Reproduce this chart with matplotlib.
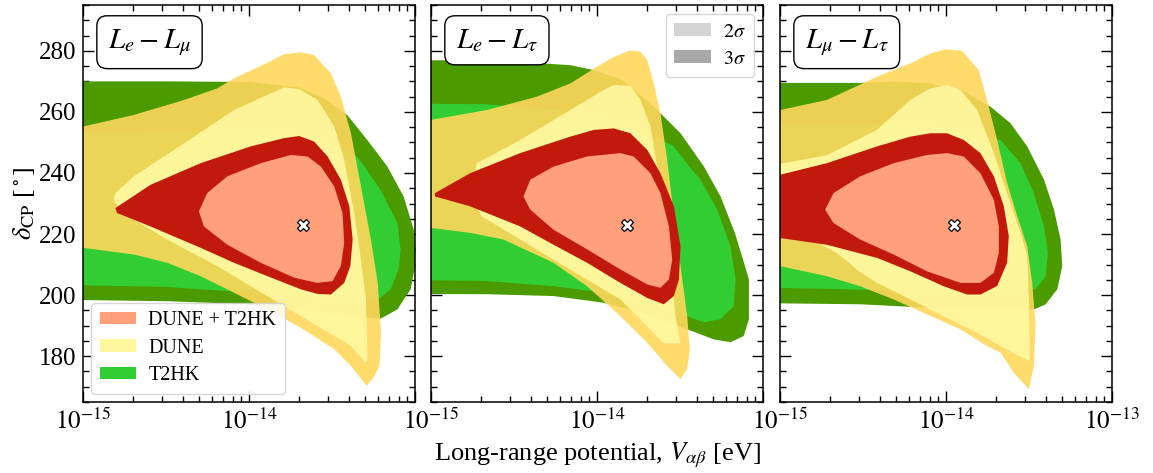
import numpy as np
import matplotlib
matplotlib.use("Agg")
import matplotlib.pyplot as plt
from matplotlib.patches import Patch
from matplotlib.ticker import MultipleLocator, LogLocator, NullFormatter

plt.rcParams["font.family"] = ["Liberation Serif", "DejaVu Serif"]
plt.rcParams["mathtext.fontset"] = "stix"

# ---------------------------------------------------------------------------
# Allowed regions: boundary points as (log10 V_ab [eV], delta_CP [deg])
# ---------------------------------------------------------------------------
panel_titles = [r"$L_e - L_\mu$", r"$L_e - L_\tau$", r"$L_\mu - L_\tau$"]
experiments = ["DUNE + T2HK", "DUNE", "T2HK"]
sigma_labels = [r"$2\sigma$", r"$3\sigma$"]

# best-fit points (log10 V, delta_CP)
best_fit_logv = [-13.674, -13.819, -13.950]
best_fit_dcp = [223.1, 223.1, 223.0]

# --- L_e - L_mu -------------------------------------------------------------
emu_t2hk_3s = [(-15.3, 270.0), (-14.5, 270.0), (-14.0, 269.8), (-13.7, 268.0),
               (-13.55, 264.5), (-13.409, 259.0), (-13.288, 250.8), (-13.167, 242.1),
               (-13.069, 232.3), (-13.008, 221.4), (-12.996, 210.6), (-13.027, 201.9),
               (-13.107, 195.3), (-13.208, 192.3), (-13.3, 192.8), (-13.5, 194.0),
               (-13.79, 195.9), (-14.0, 197.0), (-14.49, 198.0), (-15.3, 198.6)]
emu_t2hk_2s = [(-15.3, 253.0), (-14.5, 253.5), (-14.0, 253.5), (-13.7, 252.0),
               (-13.5, 249.0), (-13.348, 245.4), (-13.208, 234.5), (-13.107, 223.7),
               (-13.087, 214.9), (-13.099, 208.4), (-13.147, 201.9), (-13.22, 198.6),
               (-13.35, 198.5), (-13.6, 199.5), (-13.99, 200.8), (-14.5, 202.7),
               (-15.3, 203.5)]
emu_dune_3s = [(-15.3, 255.0), (-15.0, 255.2), (-14.694, 259.0), (-14.392, 263.9),
               (-14.191, 267.7), (-14.091, 271.0), (-13.889, 276.1), (-13.789, 278.9),
               (-13.688, 279.5), (-13.608, 278.6), (-13.507, 272.6), (-13.447, 265.0),
               (-13.386, 253.0), (-13.326, 235.6), (-13.266, 218.2), (-13.225, 204.0),
               (-13.205, 187.7), (-13.215, 176.8), (-13.245, 173.5), (-13.292, 170.3),
               (-13.386, 176.8), (-13.487, 182.3), (-13.688, 189.3), (-13.889, 195.3),
               (-14.091, 200.8), (-14.292, 206.2), (-14.493, 210.6), (-14.694, 213.3),
               (-15.0, 215.5), (-15.3, 215.7)]
emu_dune_2s = [(-14.815, 231.5), (-14.805, 233.4), (-14.694, 238.9), (-14.392, 249.7),
               (-14.091, 260.6), (-13.789, 268.0), (-13.70, 267.5), (-13.588, 263.9),
               (-13.487, 255.2), (-13.427, 244.3), (-13.366, 226.9), (-13.326, 211.6),
               (-13.296, 198.6), (-13.286, 178.4), (-13.30, 178.0), (-13.386, 183.3),
               (-13.588, 189.9), (-13.789, 196.4), (-13.990, 202.9), (-14.191, 209.5),
               (-14.493, 218.2), (-14.694, 224.7), (-14.805, 230.0)]
emu_comb_3s = [(-14.805, 228.5), (-14.594, 236.1), (-14.292, 243.2), (-13.990, 248.7),
               (-13.789, 251.4), (-13.698, 252.1), (-13.608, 250.3), (-13.527, 245.4),
               (-13.447, 237.8), (-13.396, 229.1), (-13.376, 218.2), (-13.390, 209.5),
               (-13.427, 204.0), (-13.507, 200.2), (-13.588, 200.4), (-13.688, 201.9),
               (-13.889, 206.2), (-14.091, 210.6), (-14.292, 215.5), (-14.594, 222.5),
               (-14.795, 226.9)]
emu_comb_2s = [(-14.302, 227.4), (-14.252, 233.4), (-14.131, 238.9), (-13.930, 243.2),
               (-13.748, 245.9), (-13.648, 245.4), (-13.567, 242.1), (-13.487, 235.6),
               (-13.437, 226.9), (-13.427, 217.1), (-13.447, 209.5), (-13.497, 204.6),
               (-13.588, 204.0), (-13.728, 205.7), (-13.930, 210.6), (-14.131, 216.5),
               (-14.272, 222.5)]

# --- L_e - L_tau ------------------------------------------------------------
etau_t2hk_3s = [(-15.3, 277.0), (-14.6, 276.8), (-14.161, 275.3), (-14.020, 273.7),
                (-13.85, 270.5), (-13.658, 261.7), (-13.497, 253.0), (-13.356, 242.1),
                (-13.256, 232.3), (-13.17, 220.4), (-13.117, 211.0), (-13.085, 205.1),
                (-13.085, 192.1), (-13.117, 186.6), (-13.196, 184.6), (-13.296, 185.5),
                (-13.457, 188.8), (-13.658, 193.1), (-13.960, 197.5), (-14.262, 199.7),
                (-14.664, 200.3), (-15.3, 200.4)]
etau_t2hk_2s = [(-15.3, 262.8), (-14.664, 262.5), (-14.262, 260.6), (-14.0, 258.5),
                (-13.8, 255.5), (-13.65, 252.0), (-13.537, 248.7), (-13.45, 242.5),
                (-13.377, 237.8), (-13.276, 228.0), (-13.196, 216.0), (-13.165, 205.1),
                (-13.177, 196.4), (-13.256, 192.1), (-13.358, 191.1), (-13.457, 193.1),
                (-13.658, 197.5), (-13.960, 200.8), (-14.262, 202.9), (-14.664, 204.6),
                (-15.3, 205.1)]
etau_dune_3s = [(-15.3, 257.2), (-15.0, 257.4), (-14.664, 260.6), (-14.362, 265.0),
                (-14.161, 269.3), (-14.0, 274.8), (-13.899, 278.0), (-13.799, 280.2),
                (-13.738, 279.7), (-13.698, 277.0), (-13.658, 269.3), (-13.618, 259.5),
                (-13.577, 244.3), (-13.537, 225.8), (-13.497, 209.5), (-13.457, 193.1),
                (-13.441, 182.3), (-13.457, 175.7), (-13.497, 172.5), (-13.577, 176.8),
                (-13.698, 184.4), (-13.859, 193.1), (-14.060, 202.9), (-14.262, 210.6),
                (-14.563, 218.2), (-14.765, 220.4), (-15.0, 222.0), (-15.3, 222.2)]
etau_dune_2s = [(-14.75, 236.0), (-14.724, 243.2), (-14.463, 250.8), (-14.161, 260.6),
                (-13.960, 267.2), (-13.899, 268.8), (-13.799, 268.5), (-13.738, 263.9),
                (-13.678, 255.2), (-13.638, 242.1), (-13.598, 225.8), (-13.557, 209.5),
                (-13.527, 193.1), (-13.497, 184.2), (-13.6, 184.2), (-13.739, 192.1),
                (-13.86, 198.6), (-14.060, 205.1), (-14.262, 211.6), (-14.463, 218.2),
                (-14.7, 226.0)]
etau_comb_3s = [(-14.976, 233.4), (-14.765, 239.9), (-14.463, 246.5), (-14.161, 251.9),
                (-14.020, 254.1), (-13.899, 254.6), (-13.799, 253.0), (-13.698, 247.6),
                (-13.618, 239.9), (-13.537, 229.1), (-13.497, 216.0), (-13.507, 205.1),
                (-13.537, 199.7), (-13.598, 197.0), (-13.698, 199.1), (-13.859, 204.0),
                (-14.060, 210.6), (-14.262, 216.5), (-14.463, 222.5), (-14.765, 229.1),
                (-14.976, 232.3)]
etau_comb_2s = [(-14.443, 232.3), (-14.402, 237.8), (-14.262, 242.1), (-14.060, 245.4),
                (-13.859, 246.5), (-13.779, 245.4), (-13.678, 239.9), (-13.618, 233.4),
                (-13.567, 222.5), (-13.547, 211.6), (-13.567, 205.1), (-13.618, 202.4),
                (-13.698, 203.5), (-13.859, 208.4), (-14.060, 215.0), (-14.262, 221.4),
                (-14.402, 228.0)]

# --- L_mu - L_tau -----------------------------------------------------------
mutau_t2hk_3s = [(-15.3, 269.5), (-14.517, 269.5), (-14.316, 269.9), (-14.115, 269.5),
                 (-13.9, 267.0), (-13.732, 261.7), (-13.612, 256.3), (-13.511, 248.7),
                 (-13.410, 237.8), (-13.350, 228.0), (-13.310, 218.2), (-13.300, 209.5),
                 (-13.330, 201.9), (-13.400, 197.0), (-13.471, 195.3), (-13.712, 195.3),
                 (-14.115, 195.9), (-14.517, 197.0), (-15.3, 197.5)]
mutau_t2hk_2s = [(-15.3, 256.0), (-14.5, 256.0), (-14.1, 255.0), (-13.85, 253.0),
                 (-13.672, 250.8), (-13.551, 243.2), (-13.471, 233.4), (-13.410, 222.5),
                 (-13.386, 213.8), (-13.400, 206.2), (-13.461, 201.9), (-13.511, 201.3),
                 (-13.712, 200.8), (-14.115, 200.8), (-14.517, 201.8), (-15.3, 202.7)]
mutau_dune_3s = [(-15.3, 260.4), (-15.0, 260.6), (-14.718, 263.9), (-14.416, 271.5),
                 (-14.215, 275.9), (-14.095, 279.1), (-14.004, 280.5), (-13.903, 280.0),
                 (-13.803, 273.7), (-13.753, 263.9), (-13.692, 250.8), (-13.632, 236.7),
                 (-13.571, 225.8), (-13.511, 216.0), (-13.481, 204.0), (-13.461, 189.9),
                 (-13.471, 176.8), (-13.501, 169.2), (-13.592, 174.6), (-13.672, 181.2),
                 (-13.753, 183.3), (-13.913, 188.8), (-14.115, 193.7), (-14.316, 198.6),
                 (-14.517, 202.9), (-14.718, 206.2), (-15.0, 209.5), (-15.3, 209.8)]
mutau_dune_2s = [(-15.3, 243.0), (-15.0, 243.0), (-14.718, 245.8), (-14.416, 254.1),
                 (-14.215, 263.9), (-14.095, 267.7), (-13.994, 268.8), (-13.913, 267.2),
                 (-13.813, 260.6), (-13.712, 246.5), (-13.632, 233.4), (-13.551, 220.4),
                 (-13.511, 213.0), (-13.501, 198.6), (-13.495, 178.4), (-13.54, 179.5),
                 (-13.672, 183.3), (-13.813, 187.7), (-14.014, 193.1), (-14.215, 198.6),
                 (-14.416, 204.0), (-14.517, 207.5), (-14.65, 213.5), (-14.8, 218.0),
                 (-15.3, 220.0)]
mutau_comb_3s = [(-15.3, 239.4), (-15.0, 239.4), (-14.718, 243.2), (-14.416, 248.7),
                 (-14.215, 251.9), (-14.095, 253.0), (-13.994, 253.0), (-13.893, 250.8),
                 (-13.793, 246.5), (-13.712, 238.9), (-13.652, 229.1), (-13.622, 219.3),
                 (-13.632, 210.6), (-13.692, 203.0), (-13.793, 200.2), (-13.873, 200.2),
                 (-14.014, 202.9), (-14.215, 207.8), (-14.416, 212.2), (-14.718, 216.5),
                 (-15.0, 218.7), (-15.3, 218.7)]
mutau_comb_2s = [(-14.728, 228.0), (-14.678, 233.4), (-14.517, 238.9), (-14.316, 243.2),
                 (-14.115, 245.9), (-13.994, 246.5), (-13.893, 245.4), (-13.793, 239.9),
                 (-13.712, 231.2), (-13.682, 222.5), (-13.682, 213.8), (-13.712, 207.3),
                 (-13.793, 204.0), (-13.913, 204.0), (-14.115, 207.8), (-14.316, 213.3),
                 (-14.517, 218.2), (-14.678, 223.6)]

panel_regions = [
    [emu_t2hk_3s, emu_t2hk_2s, emu_dune_3s, emu_dune_2s, emu_comb_3s, emu_comb_2s],
    [etau_t2hk_3s, etau_t2hk_2s, etau_dune_3s, etau_dune_2s, etau_comb_3s, etau_comb_2s],
    [mutau_t2hk_3s, mutau_t2hk_2s, mutau_dune_3s, mutau_dune_2s, mutau_comb_3s, mutau_comb_2s],
]

# ---------------------------------------------------------------------------
# Styling
# ---------------------------------------------------------------------------
col_t2hk_3s, col_t2hk_2s = "#4a9a00", "#32cd32"
col_dune_3s, col_dune_2s = "#ffd75c", "#fff79e"
col_comb_3s, col_comb_2s = "#c1190b", "#ffa07a"
region_styles = [
    dict(color=col_t2hk_3s, alpha=1.0),
    dict(color=col_t2hk_2s, alpha=1.0),
    dict(color=col_dune_3s, alpha=0.9),
    dict(color=col_dune_2s, alpha=0.95),
    dict(color=col_comb_3s, alpha=1.0),
    dict(color=col_comb_2s, alpha=1.0),
]

fig = plt.figure(figsize=(11.53, 4.73), dpi=100)
lefts = [0.0720, 0.3738, 0.6765]
bottom, width, height = 0.1501, 0.2880, 0.8393

axes = []
for i, left in enumerate(lefts):
    ax = fig.add_axes([left, bottom, width, height])
    axes.append(ax)
    for region, style in zip(panel_regions[i], region_styles):
        lv, dcp = zip(*region)
        ax.fill(10.0 ** np.asarray(lv), dcp, color=style["color"],
                alpha=style["alpha"], lw=0, zorder=2)
    ax.plot(10.0 ** best_fit_logv[i], best_fit_dcp[i], marker="X", ms=8.5,
            mfc="white", mec="black", mew=0.9, ls="none", zorder=5)

    ax.set_xscale("log")
    ax.set_xlim(1e-15, 1e-13)
    ax.set_ylim(165, 295)
    ax.set_xticks([1e-15, 1e-14, 1e-13])
    if i < 2:
        ax.set_xticklabels([r"$10^{-15}$", r"$10^{-14}$", ""])
    else:
        ax.set_xticklabels([r"$10^{-15}$", r"$10^{-14}$", r"$10^{-13}$"])
    ax.xaxis.set_minor_locator(LogLocator(base=10, subs=np.arange(2, 10)))
    ax.xaxis.set_minor_formatter(NullFormatter())
    ax.yaxis.set_major_locator(MultipleLocator(20))
    ax.yaxis.set_minor_locator(MultipleLocator(5))
    if i > 0:
        ax.set_yticklabels([])
    ax.tick_params(which="both", direction="in", top=True, right=True,
                   labelsize=18, width=1.0, colors="black", zorder=6)
    ax.tick_params(which="major", length=8, pad=5)
    ax.tick_params(which="minor", length=4.5)
    for sp in ax.spines.values():
        sp.set_linewidth(1.1)
        sp.set_zorder(7)

    ax.text(0.075, 0.945, panel_titles[i], transform=ax.transAxes,
            ha="left", va="top", fontsize=21, zorder=8,
            bbox=dict(boxstyle="round,pad=0.38,rounding_size=0.35",
                      fc="white", ec="black", lw=1.0))

# experiment legend
handles = [Patch(fc=col_comb_2s, ec="none"), Patch(fc=col_dune_2s, ec="none"),
           Patch(fc=col_t2hk_2s, ec="none")]
leg1 = axes[0].legend(handles, experiments, loc="lower left", fontsize=14.5,
                      handlelength=1.8, handleheight=0.6, handletextpad=0.6,
                      labelspacing=0.42, borderaxespad=0.42, borderpad=0.42,
                      framealpha=0.85, edgecolor="0.82", fancybox=True)
leg1.set_zorder(9)

# confidence-level legend
handles2 = [Patch(fc="0.83", ec="none"), Patch(fc="0.66", ec="none")]
leg2 = axes[1].legend(handles2, sigma_labels, loc="upper right", fontsize=14.5,
                      handlelength=1.8, handleheight=0.6, handletextpad=0.6,
                      labelspacing=0.42, borderaxespad=0.45, borderpad=0.42,
                      framealpha=0.85, edgecolor="0.82", fancybox=True)
leg2.set_zorder(9)

fig.text(0.021, bottom + height / 2, r"$\delta_{\rm CP}$ [$^\circ$]",
         rotation=90, ha="center", va="center", fontsize=19)
fig.text(0.518, 0.037, r"Long-range potential, $V_{\alpha\beta}$ [eV]",
         ha="center", va="center", fontsize=19)

fig.savefig("out.png", dpi=100)
